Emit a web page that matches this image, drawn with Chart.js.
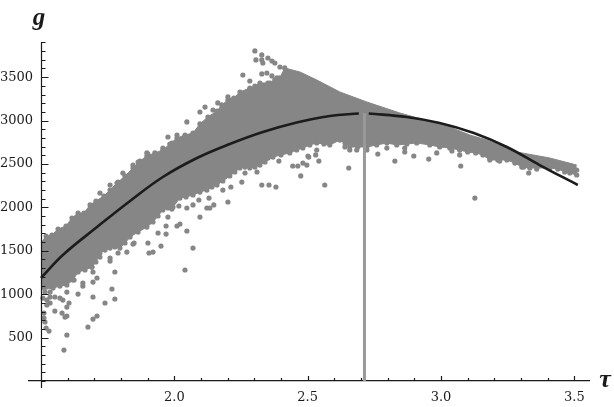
<!DOCTYPE html>
<html>
<head>
<meta charset="utf-8">
<style>
  html, body { margin: 0; padding: 0; background: #fff; }
  canvas { display: block; filter: blur(0.5px); }
</style>
<script src="https://cdn.jsdelivr.net/npm/chart.js@4/dist/chart.umd.min.js"></script>
</head>
<body>
<canvas id="chart" width="614" height="407"></canvas>
<script>
// axis ticks
const tauTicks = [1.5, 1.6, 1.7, 1.8, 1.9, 2.0, 2.1, 2.2, 2.3, 2.4, 2.5, 2.6, 2.7, 2.8, 2.9, 3.0, 3.1, 3.2, 3.3, 3.4, 3.5];
const tauLabels = [2.0, 2.5, 3.0, 3.5];
const gTicks = [0, 100, 200, 300, 400, 500, 600, 700, 800, 900, 1000, 1100, 1200, 1300, 1400, 1500, 1600, 1700, 1800, 1900, 2000, 2100, 2200, 2300, 2400, 2500, 2600, 2700, 2800, 2900, 3000, 3100, 3200, 3300, 3400, 3500, 3600, 3700, 3800, 3900];
const gLabels = [500, 1000, 1500, 2000, 2500, 3000, 3500];

// outline of the solid part of the cloud
const upperTau = [1.5, 1.519, 1.541, 1.564, 1.594, 1.616, 1.639, 1.661, 1.684, 1.706, 1.736, 1.759, 1.785, 1.815, 1.845, 1.871, 1.897, 1.927, 1.957, 1.983, 2.01, 2.04, 2.07, 2.096, 2.126, 2.16, 2.178, 2.201, 2.223, 2.246, 2.283, 2.302, 2.321, 2.351, 2.377, 2.396, 2.414, 2.471, 2.534, 2.621, 2.722, 2.846, 2.939, 3.033, 3.108, 3.172, 3.284, 3.408, 3.509];
const upperG = [1590, 1670, 1682, 1751, 1786, 1878, 1935, 1935, 2028, 2074, 2131, 2200, 2281, 2362, 2454, 2534, 2592, 2627, 2661, 2730, 2799, 2834, 2857, 2961, 3041, 3110, 3180, 3237, 3260, 3329, 3375, 3398, 3433, 3433, 3468, 3491, 3606, 3560, 3468, 3329, 3214, 3087, 3007, 2926, 2834, 2776, 2638, 2569, 2488];
const lowerTau = [1.5, 1.545, 1.571, 1.597, 1.62, 1.639, 1.665, 1.691, 1.706, 1.721, 1.74, 1.759, 1.777, 1.796, 1.815, 1.834, 1.864, 1.897, 1.92, 1.939, 1.957, 1.976, 1.995, 2.021, 2.044, 2.07, 2.096, 2.122, 2.141, 2.16, 2.182, 2.208, 2.227, 2.246, 2.265, 2.283, 2.302, 2.321, 2.34, 2.37, 2.4, 2.433, 2.459, 2.482, 2.508, 2.534, 2.561, 2.583, 2.621, 2.64, 2.658, 2.688, 2.722, 2.759, 2.797, 2.834, 2.872, 2.909, 2.958, 2.995, 3.033, 3.07, 3.1, 3.13, 3.157, 3.183, 3.213, 3.247, 3.277, 3.303, 3.333, 3.359, 3.408, 3.438, 3.464, 3.483, 3.509];
const lowerG = [1048, 1071, 1094, 1106, 1164, 1256, 1279, 1313, 1371, 1475, 1509, 1532, 1544, 1532, 1590, 1659, 1716, 1774, 1832, 1901, 1970, 1993, 2004, 2108, 2120, 2143, 2177, 2200, 2235, 2258, 2304, 2362, 2408, 2454, 2465, 2454, 2465, 2488, 2523, 2580, 2604, 2627, 2661, 2684, 2719, 2742, 2730, 2719, 2776, 2742, 2696, 2696, 2696, 2719, 2742, 2719, 2730, 2742, 2719, 2696, 2684, 2661, 2638, 2627, 2604, 2546, 2546, 2546, 2511, 2465, 2454, 2454, 2454, 2442, 2408, 2396, 2373];

// single dots along the edges and the outliers
const dotTau = [2.302, 2.306, 2.328, 2.328, 2.332, 2.351, 2.366, 2.377, 2.396, 2.257, 2.283, 2.328, 2.347, 2.366, 2.385, 2.396, 2.358, 2.265, 2.235, 2.216, 2.291,
  2.047, 2.096, 2.141, 1.976, 2.01, 1.991, 1.897, 1.845, 1.864, 1.89, 2.115, 2.163, 2.145, 2.201, 2.246, 2.272, 1.901, 1.721, 1.759, 1.807, 1.789, 1.871, 1.957, 2.066,
  1.586, 1.597, 1.53, 1.519, 1.676, 1.695, 1.71, 1.552, 1.579, 1.59, 1.597, 1.605, 1.597, 1.695, 1.639, 1.597, 1.74, 1.777, 1.766, 1.777, 1.71, 1.695, 1.657, 1.657, 1.624, 1.759, 1.759, 1.721, 1.789, 1.822, 1.845, 1.695, 1.691, 1.511, 1.511, 1.515, 1.507, 1.522, 1.534, 1.522, 1.552, 1.571, 1.582, 1.534, 1.515, 1.534,
  2.04, 2.07, 2.047, 2.021, 2.01, 1.95, 1.92, 1.905, 1.901, 1.849, 1.939, 1.969, 1.969, 1.976, 2.096, 2.122, 2.133, 2.148, 2.201, 2.047, 2.07, 2.017, 1.991, 2.092, 2.13, 2.182, 2.212,
  2.253, 2.328, 2.355, 2.381, 2.564, 2.474, 2.444, 2.463, 2.482, 2.497, 2.542, 2.501, 2.392, 2.265, 2.31, 2.351,
  2.654, 2.827, 2.898, 2.954, 2.864, 2.763, 3.127, 3.074, 3.07, 2.984, 3.329, 3.359, 3.22, 3.31, 2.684, 2.722, 2.658, 2.64, 2.53, 2.504, 2.534, 2.797, 2.864, 3.041, 3.183, 3.509];
const dotG = [3802, 3698, 3756, 3698, 3663, 3721, 3686, 3663, 3617, 3525, 3456, 3537, 3548, 3514, 3491, 3433, 3433, 3295, 3260, 3237, 3352,
  2984, 3099, 3041, 2811, 2834, 2742, 2627, 2488, 2523, 2465, 3156, 3203, 3122, 3272, 3272, 3295, 2615, 2166, 2258, 2396, 2292, 2511, 2684, 2811,
  357, 530, 576, 611, 622, 714, 749, 806, 783, 737, 749, 899, 852, 968, 1002, 1025, 899, 945, 1060, 1256, 1187, 1140, 1129, 1094, 1164, 1417, 1382, 1428, 1475, 1486, 1578, 1256, 1313, 783, 726, 680, 956, 933, 899, 876, 968, 956, 933, 968, 1025, 1025,
  1279, 1532, 1728, 1809, 1786, 1555, 1486, 1475, 1590, 1590, 1705, 1693, 1786, 1889, 1889, 1993, 1993, 2028, 2062, 1993, 2028, 2016, 1981, 2085, 2108, 2200, 2235,
  2292, 2258, 2258, 2235, 2258, 2362, 2477, 2477, 2511, 2488, 2534, 2592, 2534, 2396, 2408, 2569,
  2454, 2534, 2592, 2557, 2638, 2615, 2108, 2477, 2604, 2627, 2396, 2442, 2534, 2465, 2661, 2661, 2661, 2696, 2604, 2580, 2661, 2684, 2684, 2650, 2569, 2431];

// black fit curve, broken where the marker line passes it
const fitLeftTau = [1.5, 1.582, 1.71, 1.834, 1.957, 2.085, 2.208, 2.332, 2.459, 2.583, 2.692];
const fitLeftG = [1187, 1452, 1774, 2074, 2350, 2569, 2730, 2868, 2978, 3053, 3082];
const fitRightTau = [2.729, 2.872, 2.995, 3.123, 3.247, 3.37, 3.513];
const fitRightG = [3082, 3041, 2972, 2857, 2696, 2488, 2258];

// vertical marker
const markerTau = [2.713, 2.713];
const markerG = [0, 3085];

function points(xs, ys) {
  return xs.map((x, i) => ({ x: x, y: ys[i] }));
}

const cloudColor = '#868686';
const inkColor = '#1a1a1a';
const tickFont = { family: '"DejaVu Serif"', size: 13 };

// y spine, inner tick marks and the two axis names
const axisMarks = {
  id: 'axisMarks',
  afterDraw(chart) {
    const ctx = chart.ctx;
    const xScale = chart.scales.x;
    const yScale = chart.scales.y;
    const x0 = Math.round(xScale.getPixelForValue(1.5)) + 0.5;
    const y0 = yScale.getPixelForValue(0);
    ctx.save();
    ctx.strokeStyle = inkColor;
    ctx.lineWidth = 1.2;
    ctx.beginPath();
    ctx.moveTo(x0, chart.chartArea.top);
    ctx.lineTo(x0, chart.chartArea.bottom);
    tauTicks.forEach(t => {
      const px = Math.round(xScale.getPixelForValue(t)) + 0.5;
      ctx.moveTo(px, y0);
      ctx.lineTo(px, y0 - (tauLabels.includes(t) ? 5 : 3));
    });
    gTicks.forEach(v => {
      const py = Math.round(yScale.getPixelForValue(v)) + 0.5;
      ctx.moveTo(x0, py);
      ctx.lineTo(x0 + (gLabels.includes(v) ? 7 : 4), py);
    });
    ctx.stroke();
    ctx.fillStyle = inkColor;
    ctx.textAlign = 'center';
    ctx.textBaseline = 'middle';
    ctx.font = 'italic bold 25px "Liberation Serif"';
    ctx.fillText('g', 39, 19);
    ctx.font = 'italic bold 26px "Liberation Serif"';
    ctx.fillText('τ', 605, 380);
    ctx.restore();
  }
};

new Chart(document.getElementById('chart'), {
  type: 'scatter',
  data: {
    datasets: [
      { type: 'line', data: points(fitLeftTau, fitLeftG), borderColor: '#1c1c1c', borderWidth: 2.6, pointRadius: 0, tension: 0.4 },
      { type: 'line', data: points(fitRightTau, fitRightG), borderColor: '#1c1c1c', borderWidth: 2.6, pointRadius: 0, tension: 0.4 },
      { type: 'line', data: points(markerTau, markerG), borderColor: '#999', borderWidth: 3, pointRadius: 0 },
      { data: points(dotTau, dotG), backgroundColor: cloudColor, borderWidth: 0, pointRadius: 2.6 },
      { type: 'line', data: points(upperTau, upperG), borderColor: cloudColor, borderWidth: 1, backgroundColor: cloudColor, pointBorderWidth: 0, pointRadius: c => (c.raw.x > 1.5 && c.raw.x < 2.45 ? 2.6 : 0), fill: '+1' },
      { type: 'line', data: points(lowerTau, lowerG), borderColor: cloudColor, borderWidth: 1, backgroundColor: cloudColor, pointBorderWidth: 0, pointRadius: c => (c.raw.x > 1.5 ? 2.6 : 0) }
    ]
  },
  options: {
    responsive: false,
    animation: false,
    layout: { padding: { left: 29, right: 25, top: 42, bottom: 19 } },
    plugins: { legend: { display: false }, tooltip: { enabled: false } },
    scales: {
      x: {
        type: 'linear',
        min: 1.455,
        max: 3.555,
        position: { y: 0 },
        afterBuildTicks: axis => { axis.ticks = tauLabels.map(v => ({ value: v })); },
        grid: { display: true, drawOnChartArea: false, drawTicks: false },
        border: { color: inkColor, width: 1.2 },
        ticks: { font: tickFont, color: inkColor, padding: 9, maxRotation: 0, callback: v => v.toFixed(1) }
      },
      y: {
        type: 'linear',
        min: -80,
        max: 3905,
        // labels sit at this x, the spine itself is drawn at tau = 1.5 in axisMarks
        position: { x: 1.47 },
        afterBuildTicks: axis => { axis.ticks = gLabels.map(v => ({ value: v })); },
        grid: { display: false },
        border: { display: false },
        ticks: { font: tickFont, color: inkColor, callback: v => String(v) }
      }
    }
  },
  plugins: [axisMarks]
});
</script>
</body>
</html>
